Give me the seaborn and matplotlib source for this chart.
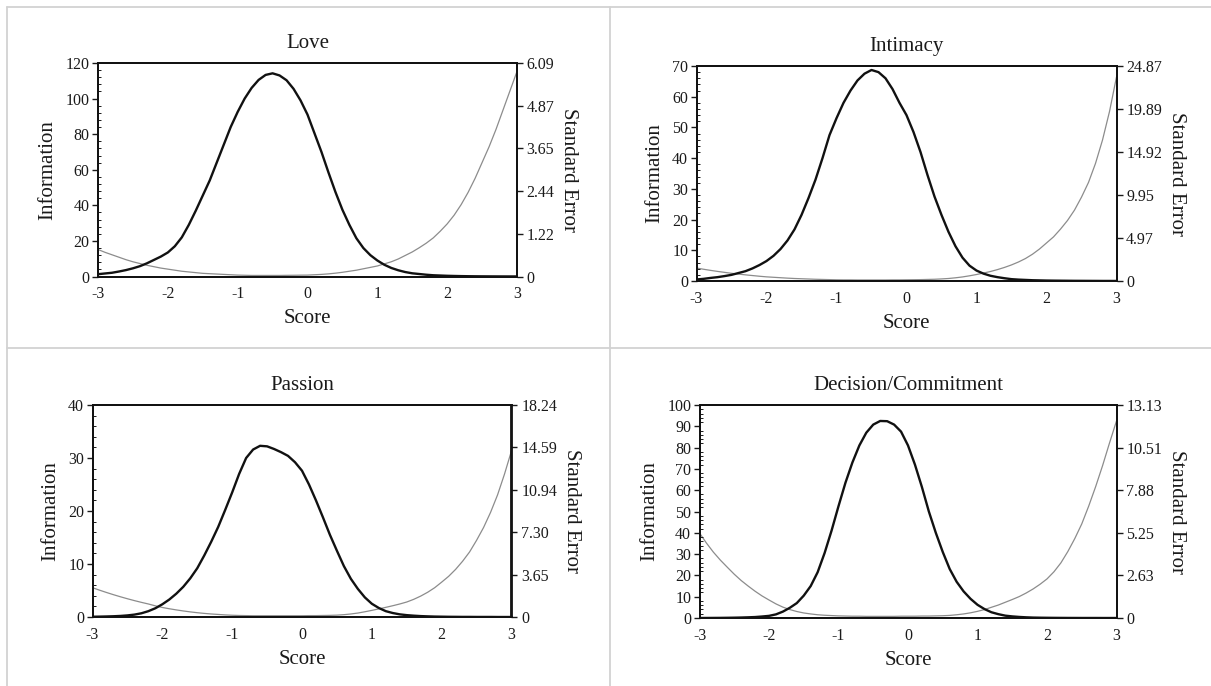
import numpy as np
import matplotlib
matplotlib.use("Agg")
import matplotlib.pyplot as plt
from matplotlib.lines import Line2D
from matplotlib.ticker import AutoMinorLocator, MultipleLocator
import seaborn as sns

# theta grid shared by every panel (step 0.1)
score = [-3.0, -2.9, -2.8, -2.7, -2.6, -2.5, -2.4, -2.3, -2.2, -2.1,
         -2.0, -1.9, -1.8, -1.7, -1.6, -1.5, -1.4, -1.3, -1.2, -1.1,
         -1.0, -0.9, -0.8, -0.7, -0.6, -0.5, -0.4, -0.3, -0.2, -0.1,
         0.0, 0.1, 0.2, 0.3, 0.4, 0.5, 0.6, 0.7, 0.8, 0.9,
         1.0, 1.1, 1.2, 1.3, 1.4, 1.5, 1.6, 1.7, 1.8, 1.9,
         2.0, 2.1, 2.2, 2.3, 2.4, 2.5, 2.6, 2.7, 2.8, 2.9,
         3.0]

love_info = [1.3, 1.7, 2.1, 2.8, 3.6, 4.6, 5.8, 7.4, 9.3, 11.2,
             13.5, 17.0, 22.0, 29.0, 37.0, 45.5, 54.0, 64.0, 74.0, 84.0,
             92.5, 100.0, 106.0, 110.5, 113.3, 114.2, 113.0, 110.3, 105.5, 99.0,
             91.0, 80.5, 70.0, 58.5, 47.5, 37.5, 29.0, 21.5, 16.0, 12.0,
             9.0, 6.6, 4.8, 3.5, 2.5, 1.8, 1.4, 1.0, 0.7, 0.55,
             0.4, 0.3, 0.22, 0.16, 0.12, 0.09, 0.07, 0.05, 0.04, 0.03,
             0.03]
love_se = [0.77, 0.69, 0.62, 0.55, 0.48, 0.42, 0.37, 0.32, 0.28, 0.24,
           0.21, 0.18, 0.15, 0.13, 0.11, 0.09, 0.08, 0.07, 0.06, 0.05,
           0.04, 0.035, 0.03, 0.03, 0.03, 0.03, 0.03, 0.033, 0.035, 0.038,
           0.04, 0.05, 0.06, 0.075, 0.095, 0.12, 0.15, 0.18, 0.22, 0.26,
           0.30, 0.36, 0.42, 0.50, 0.60, 0.70, 0.82, 0.95, 1.10, 1.29,
           1.50, 1.75, 2.05, 2.40, 2.80, 3.25, 3.70, 4.20, 4.75, 5.30,
           5.85]

intimacy_info = [0.5, 0.7, 1.0, 1.25, 1.6, 2.0, 2.6, 3.2, 4.1, 5.2,
                 6.5, 8.2, 10.4, 13.2, 16.8, 21.5, 27.0, 33.0, 40.0, 47.5,
                 53.0, 58.0, 62.0, 65.3, 67.5, 68.7, 68.0, 66.0, 62.5, 58.0,
                 54.0, 48.5, 42.0, 34.5, 27.5, 21.5, 16.0, 11.3, 7.6, 5.0,
                 3.4, 2.4, 1.7, 1.25, 0.9, 0.6, 0.45, 0.35, 0.25, 0.2,
                 0.15, 0.12, 0.1, 0.08, 0.06, 0.05, 0.04, 0.03, 0.02, 0.02,
                 0.01]
intimacy_se = [1.50, 1.36, 1.23, 1.11, 1.00, 0.89, 0.80, 0.71, 0.63, 0.55,
               0.48, 0.43, 0.38, 0.33, 0.29, 0.26, 0.23, 0.20, 0.18, 0.16,
               0.14, 0.13, 0.13, 0.12, 0.12, 0.12, 0.12, 0.12, 0.13, 0.13,
               0.14, 0.15, 0.16, 0.18, 0.20, 0.24, 0.29, 0.37, 0.47, 0.60,
               0.75, 0.92, 1.10, 1.32, 1.57, 1.86, 2.20, 2.60, 3.10, 3.70,
               4.40, 5.10, 6.00, 7.00, 8.20, 9.70, 11.4, 13.6, 16.3, 19.6,
               23.6]

passion_info = [0.05, 0.07, 0.1, 0.14, 0.2, 0.3, 0.45, 0.7, 1.1, 1.65,
                2.4, 3.3, 4.4, 5.7, 7.3, 9.2, 11.6, 14.2, 17.0, 20.2,
                23.5, 27.0, 30.0, 31.6, 32.3, 32.2, 31.7, 31.1, 30.4, 29.2,
                27.6, 25.0, 22.0, 18.8, 15.5, 12.5, 9.6, 7.2, 5.3, 3.7,
                2.5, 1.7, 1.1, 0.75, 0.5, 0.35, 0.25, 0.17, 0.12, 0.08,
                0.06, 0.04, 0.03, 0.02, 0.02, 0.01, 0.01, 0.01, 0.0, 0.0,
                0.0]
passion_se = [2.52, 2.31, 2.11, 1.92, 1.74, 1.57, 1.41, 1.26, 1.12, 0.96,
              0.82, 0.71, 0.61, 0.52, 0.44, 0.37, 0.31, 0.26, 0.22, 0.18,
              0.15, 0.13, 0.12, 0.11, 0.11, 0.11, 0.11, 0.11, 0.11, 0.11,
              0.11, 0.12, 0.12, 0.13, 0.14, 0.16, 0.20, 0.26, 0.34, 0.45,
              0.57, 0.70, 0.83, 0.97, 1.12, 1.29, 1.52, 1.80, 2.13, 2.52,
              3.00, 3.50, 4.10, 4.80, 5.60, 6.60, 7.70, 9.00, 10.5, 12.3,
              14.3]

decision_info = [0.0, 0.02, 0.04, 0.06, 0.1, 0.15, 0.22, 0.32, 0.45, 0.7,
                 1.0, 1.7, 3.0, 4.8, 7.0, 10.5, 15.0, 21.5, 30.5, 41.0,
                 52.5, 63.5, 73.0, 81.0, 87.0, 90.8, 92.5, 92.4, 90.8, 87.5,
                 81.0, 72.0, 61.5, 50.0, 40.0, 31.0, 23.0, 17.0, 12.5, 9.0,
                 6.2, 4.2, 2.7, 1.8, 1.1, 0.75, 0.5, 0.32, 0.2, 0.14,
                 0.1, 0.07, 0.05, 0.03, 0.02, 0.01, 0.01, 0.01, 0.0, 0.0,
                 0.0]
decision_se = [5.24, 4.62, 4.06, 3.57, 3.13, 2.70, 2.31, 1.97, 1.65, 1.36,
               1.11, 0.87, 0.67, 0.52, 0.40, 0.31, 0.25, 0.20, 0.17, 0.15,
               0.13, 0.12, 0.11, 0.11, 0.10, 0.10, 0.10, 0.10, 0.10, 0.11,
               0.11, 0.11, 0.12, 0.12, 0.13, 0.14, 0.16, 0.20, 0.25, 0.32,
               0.41, 0.52, 0.66, 0.80, 0.97, 1.14, 1.32, 1.54, 1.79, 2.08,
               2.41, 2.85, 3.40, 4.10, 4.90, 5.80, 6.90, 8.10, 9.40, 10.8,
               12.15]

titles = ["Love", "Intimacy", "Passion", "Decision/Commitment"]
info_series = [love_info, intimacy_info, passion_info, decision_info]
se_series = [love_se, intimacy_se, passion_se, decision_se]
info_max = [120, 70, 40, 100]
info_step = [20, 10, 10, 10]
se_max = [6.09, 24.866, 18.24, 13.134]
se_labels = [
    ["0", "1.22", "2.44", "3.65", "4.87", "6.09"],
    ["0", "4.97", "9.95", "14.92", "19.89", "24.87"],
    ["0", "3.65", "7.30", "10.94", "14.59", "18.24"],
    ["0", "2.63", "5.25", "7.88", "10.51", "13.13"],
]

W, H = 1211, 686
# plot boxes in pixels: left, top, right, bottom
boxes = [
    (98, 63, 517, 276.5),
    (696.5, 66, 1116.5, 281),
    (92.5, 405, 511.5, 617),
    (699.5, 405, 1116.5, 618),
]

sns.set_theme(style="white")
plt.rcParams["font.family"] = ["Liberation Serif", "DejaVu Serif"]
plt.rcParams["axes.unicode_minus"] = False
plt.rcParams["text.color"] = "#1a1a1a"
plt.rcParams["axes.labelcolor"] = "#1a1a1a"
plt.rcParams["xtick.color"] = "#1a1a1a"
plt.rcParams["ytick.color"] = "#1a1a1a"

fig = plt.figure(figsize=(W / 100, H / 100), dpi=100)
fig.patch.set_facecolor("white")

# table-like cell borders
grid_kw = dict(transform=fig.transFigure, color="#d2d2d2", lw=1.3)
fig.add_artist(Line2D([7 / W, 1], [1 - 7 / H, 1 - 7 / H], **grid_kw))
fig.add_artist(Line2D([7 / W, 1], [1 - 348 / H, 1 - 348 / H], **grid_kw))
fig.add_artist(Line2D([7 / W, 7 / W], [0, 1 - 7 / H], **grid_kw))
fig.add_artist(Line2D([610 / W, 610 / W], [0, 1 - 7 / H], **grid_kw))

for i in range(4):
    l, t, r, b = boxes[i]
    ax = fig.add_axes([l / W, 1 - b / H, (r - l) / W, (b - t) / H])
    ax2 = ax.twinx()

    sns.lineplot(x=score, y=se_series[i], ax=ax2, color="#8c8c8c", linewidth=0.9)
    sns.lineplot(x=score, y=info_series[i], ax=ax, color="#111111", linewidth=1.7)
    ax.set_zorder(ax2.get_zorder() + 1)
    ax.patch.set_visible(False)

    ax.set_xlim(-3, 3)
    ax.set_ylim(0, info_max[i])
    ax.set_xticks([-3, -2, -1, 0, 1, 2, 3])
    ax.set_yticks(np.arange(0, info_max[i] + 1, info_step[i]))
    ax.xaxis.set_minor_locator(MultipleLocator(0.2))
    ax.yaxis.set_minor_locator(AutoMinorLocator(5))

    ax2.set_ylim(0, se_max[i])
    ax2.set_yticks(np.linspace(0, se_max[i], 6))
    ax2.set_yticklabels(se_labels[i])

    for a in (ax, ax2):
        for s in a.spines.values():
            s.set_color("#111111")
            s.set_linewidth(1.3)

    ax.tick_params(axis="x", which="major", direction="out", length=4, width=1.0,
                   pad=3, labelsize=11.5, top=False)
    ax.tick_params(axis="x", which="minor", direction="inout", length=3, width=0.7, top=False)
    ax.tick_params(axis="y", which="major", direction="out", length=4, width=1.0,
                   pad=2, labelsize=11.5, right=False)
    ax.tick_params(axis="y", which="minor", direction="in", length=2, width=0.7, right=False)
    ax2.tick_params(axis="y", which="major", direction="out", length=4, width=1.0,
                    pad=3, labelsize=11.5)

    ax.set_title(titles[i], fontsize=15, pad=11)
    ax.set_xlabel("Score", fontsize=15, labelpad=5)
    ax.set_ylabel("Information", fontsize=15, labelpad=6)
    ax2.set_ylabel("Standard Error", fontsize=15, rotation=270, labelpad=17)

fig.savefig("out.png", dpi=100, facecolor="white")
